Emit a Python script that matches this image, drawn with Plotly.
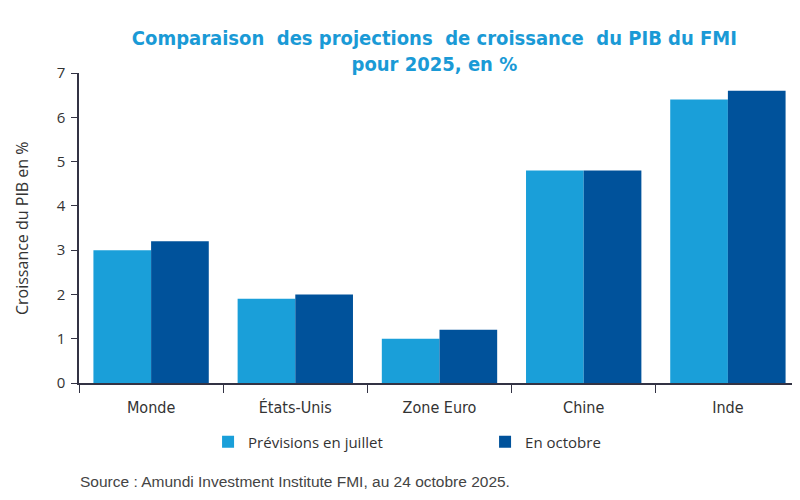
import plotly.graph_objects as go

# data
pays = ["Monde", "États-Unis", "Zone Euro", "Chine", "Inde"]
juillet = [3.0, 1.9, 1.0, 4.8, 6.4]
octobre = [3.2, 2.0, 1.2, 4.8, 6.6]
y_ticks = [0, 1, 2, 3, 4, 5, 6, 7]

bleu_clair = "#1a9fd9"
bleu_fonce = "#00529b"
narrow = "DejaVu Sans Condensed, sans-serif"

fig = go.Figure()
fig.add_trace(go.Bar(x=pays, y=juillet, name="Prévisions en juillet",
                     marker=dict(color=bleu_clair, line=dict(width=0))))
fig.add_trace(go.Bar(x=pays, y=octobre, name="En octobre",
                     marker=dict(color=bleu_fonce, line=dict(width=0))))

# the page adds an 8px body margin, so margins are shifted by 8px
fig.update_layout(
    width=800, height=500,
    barmode="group", bargap=0.2, bargroupgap=0,
    paper_bgcolor="white", plot_bgcolor="white",
    margin=dict(l=71, r=8, t=65, b=125, autoexpand=False),
    font=dict(family="Open Sans", color="#333333"),
    title=dict(
        text="<b>Comparaison  des projections  de croissance  du PIB du FMI<br>pour 2025, en %</b>",
        x=0.533, xanchor="center", y=0.926, yanchor="top",
        font=dict(family=narrow, size=20, color="#1a9ad6"),
    ),
    xaxis=dict(
        showline=True, linecolor="#333344", linewidth=1.5,
        ticks="outside", tickson="boundaries", ticklen=8, tickcolor="#333344",
        tickfont=dict(family=narrow, size=16, color="#333333"),
        ticklabelstandoff=9,
        showgrid=False, automargin=False,
    ),
    yaxis=dict(
        range=[0, 7], tickvals=y_ticks,
        showline=True, linecolor="#333344", linewidth=1.5,
        ticks="outside", ticklen=6, tickcolor="#333344",
        tickfont=dict(size=15, color="#333333"),
        ticklabelstandoff=3,
        showgrid=False, zeroline=False, automargin=False,
    ),
    legend=dict(
        orientation="h", x=0.179, xanchor="left",
        yref="container", y=0.132, yanchor="middle",
        entrywidth=232, entrywidthmode="pixels",
        font=dict(size=15, color="#333333"),
    ),
    annotations=[
        dict(
            text="Croissance du PIB en %", textangle=-90,
            xref="paper", yref="paper", x=-0.079, xanchor="center", y=0.5, yanchor="middle",
            showarrow=False, font=dict(size=16, color="#333333"),
        ),
        dict(
            text="Source : Amundi Investment Institute FMI, au 24 octobre 2025.",
            xref="paper", yref="paper", x=-0.002, xanchor="left", y=-0.319, yanchor="middle",
            showarrow=False, font=dict(family="Liberation Sans", size=15.5, color="#444444"),
        ),
    ],
)

fig.write_html("out.html")
